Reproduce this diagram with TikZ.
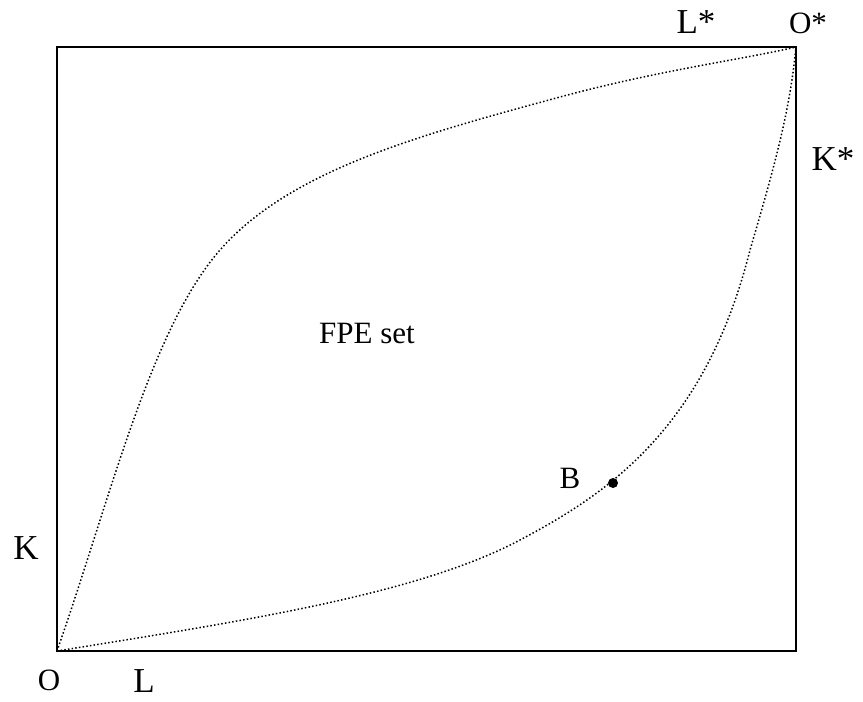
\documentclass[tikz,border=0pt]{standalone}
\usepackage{fontspec}
\setmainfont{Liberation Serif}
\begin{document}
\begin{tikzpicture}[x=1pt,y=-1pt,
  lbl/.style={inner sep=0pt,anchor=base,font=\fontsize{35}{37}\selectfont},
  olbl/.style={inner sep=0pt,anchor=base,font=\fontsize{31}{33}\selectfont},
  slbl/.style={inner sep=0pt,anchor=base,font=\fontsize{31}{33}\selectfont},
  dots/.style={line width=1.5pt,dash pattern=on 1.5pt off 2.2pt},
  frame/.style={line width=2pt}]
\useasboundingbox (0,0) rectangle (863,702);
\coordinate (O) at (57,651);
\coordinate (Os) at (796,47);
\draw[frame] (O) rectangle (Os);
\draw[dots] (O) .. controls (110,500) and (150,330) .. (220,250)
  .. controls (290,170) and (420,135) .. (560,97)
  .. controls (660,70) and (740,60) .. (Os);
\draw[dots] (O) .. controls (250,620) and (418,594) .. (520,540)
  .. controls (605,495) and (705,430) .. (750,250)
  .. controls (775,165) and (790,110) .. (Os);
\node[circle,fill=black,inner sep=0pt,minimum size=10pt] (B) at (613,483) {};
\node[slbl] (Bl) at (570,488) {B};
\node[slbl] (fpe) at (367,343) {FPE set};
\node[lbl] (K) at (26,559) {K};
\node[olbl] (Olab) at (49,690) {O};
\node[lbl] (L) at (144,692) {L};
\node[lbl] (Ls) at (696,33) {L*};
\node[olbl] (Osl) at (808,33) {O*};
\node[lbl] (Ks) at (833,170) {K*};
\end{tikzpicture}
\end{document}
